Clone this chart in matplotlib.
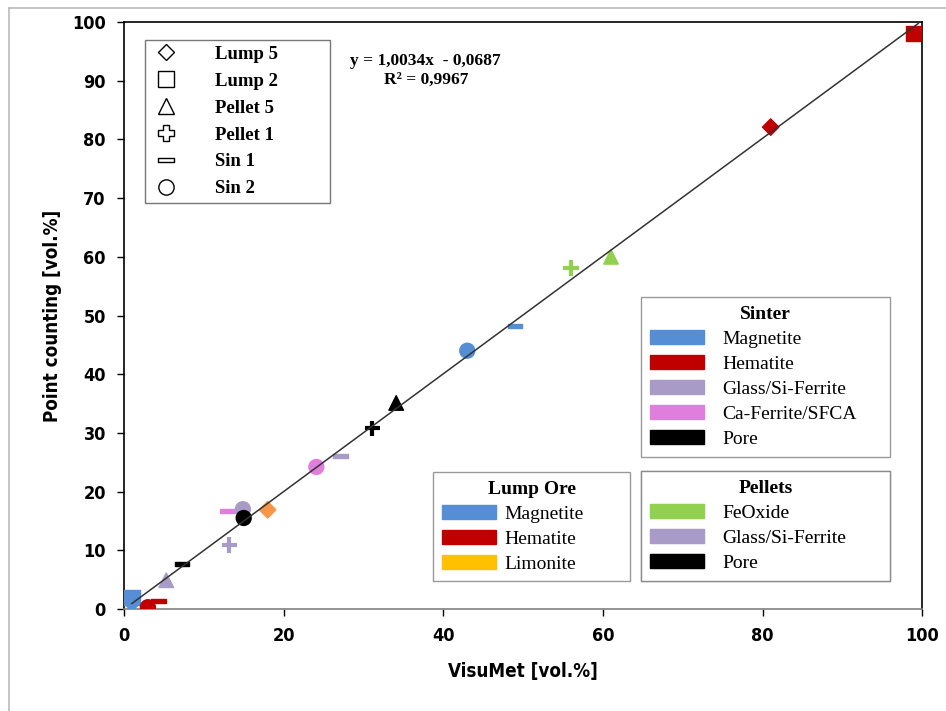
import numpy as np
import matplotlib
matplotlib.use("Agg")
import matplotlib.pyplot as plt
from matplotlib.lines import Line2D
from matplotlib.patches import Patch
from matplotlib.path import Path

# colours used in the source figure
BLUE = "#558ED5"
RED = "#C00000"
PURPLE = "#A99BC8"
PINK = "#E07EDB"
GREEN = "#92D050"
ORANGE = "#F79646"
YELLOW = "#FFC000"
BLACK = "#000000"

# VisuMet vs point counting, per sample
lump5_x = [1.0, 18.0, 81.0]
lump5_y = [1.0, 16.9, 82.1]
lump5_c = [BLUE, ORANGE, RED]

lump2_x = [1.0, 98.9]
lump2_y = [1.9, 98.1]
lump2_c = [BLUE, RED]

pellet5_x = [5.3, 34.1, 61.0]
pellet5_y = [4.9, 35.1, 60.0]
pellet5_c = [PURPLE, BLACK, GREEN]

pellet1_x = [13.2, 31.1, 56.0]
pellet1_y = [10.9, 30.8, 58.1]
pellet1_c = [PURPLE, BLACK, GREEN]

sin1_x = [4.3, 7.3, 13.0, 27.1, 49.0]
sin1_y = [1.4, 7.7, 16.7, 26.1, 48.2]
sin1_c = [RED, BLACK, PINK, PURPLE, BLUE]

sin2_x = [3.0, 14.9, 15.0, 24.1, 43.0]
sin2_y = [0.3, 17.0, 15.5, 24.2, 44.0]
sin2_c = [RED, PURPLE, BLACK, PINK, BLUE]

fit_slope = 1.0034
fit_icpt = -0.0687
fit_x = [1.0, 99.5]

sample_labels = ["Lump 5", "Lump 2", "Pellet 5", "Pellet 1", "Sin 1", "Sin 2"]

sinter_labels = ["Magnetite", "Hematite", "Glass/Si-Ferrite", "Ca-Ferrite/SFCA", "Pore"]
sinter_colors = [BLUE, RED, PURPLE, PINK, BLACK]
lump_labels = ["Magnetite", "Hematite", "Limonite"]
lump_colors = [BLUE, RED, YELLOW]
pellet_labels = ["FeOxide", "Glass/Si-Ferrite", "Pore"]
pellet_colors = [GREEN, PURPLE, BLACK]

ticks = [0, 20, 40, 60, 80, 100]
yticks = list(range(0, 101, 10))

NARROW = ["Liberation Sans Narrow", "DejaVu Sans"]
SERIF = ["Liberation Serif", "DejaVu Serif"]

# short horizontal bar marker for the "Sin 1" series
bar = Path([(-1, -0.24), (1, -0.24), (1, 0.24), (-1, 0.24), (-1, -0.24)],
           [Path.MOVETO, Path.LINETO, Path.LINETO, Path.LINETO, Path.CLOSEPOLY])

fig = plt.figure(figsize=(9.46, 7.11), dpi=100)
ax = fig.add_axes([0.131, 0.1435, 0.844, 0.8255])

series = [
    (lump5_x, lump5_y, lump5_c, dict(marker="D", s=70)),
    (lump2_x, lump2_y, lump2_c, dict(marker="s", s=120)),
    (pellet5_x, pellet5_y, pellet5_c, dict(marker="^", s=110)),
    (pellet1_x, pellet1_y, pellet1_c, dict(marker="+", s=120, linewidths=3)),
    (sin1_x, sin1_y, sin1_c, dict(marker=bar, s=110)),
    (sin2_x, sin2_y, sin2_c, dict(marker="o", s=115)),
]
for xs, ys, cs, kw in series:
    ax.scatter(xs, ys, c=cs, zorder=3, **kw)

fx = np.array(fit_x)
ax.plot(fx, fit_slope * fx + fit_icpt, color="#333333", lw=1.1, zorder=4)

ax.set_xlim(0, 100)
ax.set_ylim(0, 100)
ax.set_xticks(ticks)
ax.set_yticks(yticks)
ax.tick_params(direction="out", length=5, width=1, pad=8)
for lab in ax.get_xticklabels() + ax.get_yticklabels():
    lab.set_family(NARROW)
    lab.set_fontsize(13)
    lab.set_fontweight("bold")
    lab.set_fontstretch("condensed")
ax.set_xlabel("VisuMet [vol.%]", family=NARROW, fontsize=13.5, fontweight="bold",
              fontstretch="condensed", labelpad=12)
ax.set_ylabel("Point counting [vol.%]", family=NARROW, fontsize=13.5, fontweight="bold",
              fontstretch="condensed", labelpad=7)
for sp in ax.spines.values():
    sp.set_linewidth(1.2)
ax.spines["bottom"].set_color("#808080")

ax.text(0.378, 0.947, "y = 1,0034x  - 0,0687\nR² = 0,9967", transform=ax.transAxes,
        ha="center", va="top", multialignment="center", family=SERIF,
        fontsize=12.5, fontweight="bold", linespacing=1.2)

# legend of sample shapes
open_kw = dict(color="none", markerfacecolor="white", markeredgecolor="black",
               markeredgewidth=1.0, linestyle="none")
shape_handles = [
    Line2D([], [], marker="D", markersize=8, **open_kw),
    Line2D([], [], marker="s", markersize=11, **open_kw),
    Line2D([], [], marker="^", markersize=12, **open_kw),
    Line2D([], [], marker="P", markersize=11, **open_kw),
    Line2D([], [], marker=bar, markersize=11, **open_kw),
    Line2D([], [], marker="o", markersize=11, **open_kw),
]
leg0 = ax.legend(shape_handles, sample_labels, loc="upper left",
                 bbox_to_anchor=(0.0263, 0.0, 0.232, 0.969), mode="expand",
                 borderaxespad=0, frameon=True, fancybox=False, handlelength=1.6,
                 handletextpad=1.85, labelspacing=0.52, borderpad=0.3,
                 prop=dict(family=SERIF, size=13.5, weight="bold"))
leg0.get_frame().set_edgecolor("#555555")
leg0.get_frame().set_linewidth(1.0)
ax.add_artist(leg0)


def color_legend(labels, colors, title, anchor, textpad):
    handles = [Patch(facecolor=c, edgecolor=c) for c in colors]
    leg = ax.legend(handles, labels, title=title, loc="upper left",
                    bbox_to_anchor=anchor, mode="expand", borderaxespad=0,
                    frameon=True, fancybox=False, handlelength=2.8, handleheight=0.8,
                    handletextpad=textpad, labelspacing=0.35, borderpad=0.45,
                    prop=dict(family=SERIF, size=14),
                    title_fontproperties=dict(family=SERIF, size=14, weight="bold"))
    leg.get_frame().set_edgecolor("#808080")
    leg.get_frame().set_linewidth(1.0)
    ax.add_artist(leg)
    return leg


color_legend(sinter_labels, sinter_colors, "Sinter", (0.648, 0.0, 0.312, 0.5315), 0.9)
color_legend(lump_labels, lump_colors, "Lump Ore", (0.387, 0.0, 0.247, 0.2334), 0.45)
color_legend(pellet_labels, pellet_colors, "Pellets", (0.648, 0.0, 0.312, 0.235), 0.9)

# light frame around the whole picture (left and top edges visible)
fig.add_artist(Line2D([0.009, 0.009], [0.0, 0.989], color="#BBBBBB", lw=1.2,
                      transform=fig.transFigure))
fig.add_artist(Line2D([0.009, 1.0], [0.989, 0.989], color="#BBBBBB", lw=1.2,
                      transform=fig.transFigure))

fig.savefig("out.png", dpi=100, facecolor="white")
